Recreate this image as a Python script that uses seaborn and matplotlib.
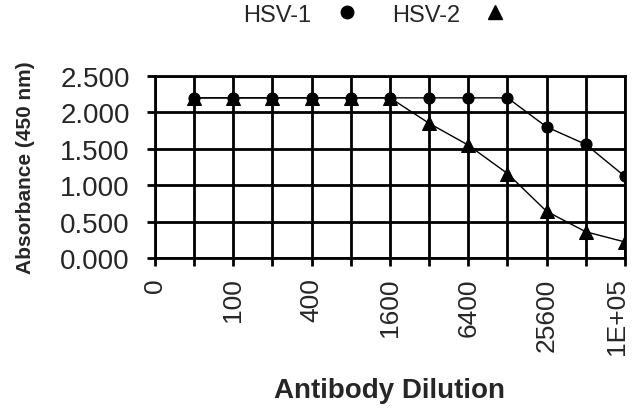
import pandas as pd
import matplotlib
matplotlib.use('Agg')
import matplotlib.pyplot as plt
import matplotlib.transforms as mtransforms
import seaborn as sns
from matplotlib.lines import Line2D

# Dilution steps (2-fold series) and absorbance read at 450 nm
dilutions = [50, 100, 200, 400, 800, 1600, 3200, 6400, 12800, 25600, 51200, 102400]
hsv1 = [2.20, 2.20, 2.20, 2.20, 2.20, 2.20, 2.20, 2.20, 2.20, 1.80, 1.56, 1.12]
hsv2 = [2.20, 2.20, 2.20, 2.20, 2.20, 2.20, 1.85, 1.55, 1.16, 0.64, 0.36, 0.22]
tick_labels = ['0', '', '100', '', '400', '', '1600', '', '6400', '', '25600', '', '1E+05']
y_ticks = [0.0, 0.5, 1.0, 1.5, 2.0, 2.5]

positions = list(range(1, len(dilutions) + 1))
df1 = pd.DataFrame({'pos': positions, 'dilution': dilutions, 'abs': hsv1})
df2 = pd.DataFrame({'pos': positions, 'dilution': dilutions, 'abs': hsv2})

sns.set_style('white')
plt.rcParams['font.family'] = ['Liberation Sans', 'DejaVu Sans']

fig = plt.figure(figsize=(6.36, 4.14), dpi=100)
ax = fig.add_axes([0.2437, 0.3744, 0.739, 0.4396])

# HSV-1 first, HSV-2 triangles sit on top where the curves overlap
sns.lineplot(data=df1, x='pos', y='abs', color='black', marker='o',
             markersize=8, markeredgecolor='black', linewidth=1.0, ax=ax, zorder=3)
sns.lineplot(data=df2, x='pos', y='abs', color='black', marker='^',
             markersize=10, markeredgecolor='black', linewidth=1.0, ax=ax, zorder=4)

ax.set_xlim(0, 12)
ax.set_ylim(0, 2.5)
ax.set_xticks(range(0, 13))
ax.set_xticklabels(tick_labels, rotation=90, fontsize=19)
ax.set_yticks(y_ticks)
ax.set_yticklabels([f'{v:.3f}' for v in y_ticks], fontsize=20)
ax.grid(True, color='black', linewidth=2.0)
ax.tick_params(axis='both', direction='out', length=6, width=2.0, color='black',
               bottom=True, left=True)
ax.tick_params(axis='x', pad=8)
ax.tick_params(axis='y', pad=12)
for s in ax.spines.values():
    s.set_color('black')
    s.set_linewidth(2.0)

# nudge the last x label in a bit so it stays inside the figure
last = ax.get_xticklabels()[-1]
last.set_transform(last.get_transform() + mtransforms.ScaledTranslation(-6 / 72, 0, fig.dpi_scale_trans))

ax.set_xlabel('Antibody Dilution', fontsize=20, fontweight='bold', labelpad=16)
ax.set_ylabel('Absorbance (450 nm)', fontsize=15, fontweight='bold', labelpad=18)

handles = [Line2D([], [], color='black', marker='o', linestyle='none', markersize=9),
           Line2D([], [], color='black', marker='^', linestyle='none', markersize=10)]
fig.legend(handles, ['HSV-1', 'HSV-2'], loc='center', bbox_to_anchor=(0.59, 0.962),
           ncol=2, frameon=False, markerfirst=False, fontsize=17,
           handlelength=1.0, columnspacing=1.4, handletextpad=1.0)

fig.savefig('out.png', dpi=100)
